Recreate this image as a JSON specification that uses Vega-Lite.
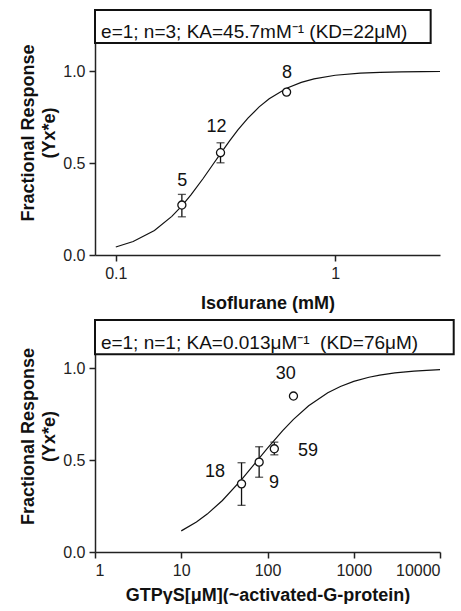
{
  "$schema": "https://vega.github.io/schema/vega-lite/v6.json",
  "padding": {"left": 19, "top": 9, "right": 0, "bottom": 0},
  "background": "white",
  "spacing": 7,
  "config": {
    "font": "Liberation Sans",
    "view": {"stroke": null},
    "axis": {
      "domainColor": "#222", "tickColor": "#222", "labelColor": "#222", "titleColor": "#111",
      "domainWidth": 1.5, "tickWidth": 1.5, "tickSize": 6, "grid": false,
      "labelFontSize": 16, "titleFontSize": 18, "titleFontWeight": "bold", "labelPadding": 4
    }
  },
  "datasets": {
    "curve1": [
      {"x": 0.1, "y": 0.0437}, {"x": 0.12, "y": 0.0732}, {"x": 0.15, "y": 0.1336}, {"x": 0.18, "y": 0.2104},
      {"x": 0.2, "y": 0.2677}, {"x": 0.22, "y": 0.3273}, {"x": 0.25, "y": 0.4166}, {"x": 0.28, "y": 0.5008},
      {"x": 0.3, "y": 0.5523}, {"x": 0.33, "y": 0.6215}, {"x": 0.36, "y": 0.6807}, {"x": 0.4, "y": 0.7452},
      {"x": 0.45, "y": 0.8064}, {"x": 0.5, "y": 0.851}, {"x": 0.6, "y": 0.908}, {"x": 0.7, "y": 0.94},
      {"x": 0.8, "y": 0.959}, {"x": 1.0, "y": 0.9786}, {"x": 1.3, "y": 0.9901}, {"x": 1.6, "y": 0.9947},
      {"x": 2.0, "y": 0.9973}, {"x": 2.5, "y": 0.9986}, {"x": 3.0, "y": 0.9992}
    ],
    "pts1": [
      {"x": 0.2, "y": 0.272, "lo": 0.208, "hi": 0.33},
      {"x": 0.3, "y": 0.557, "lo": 0.502, "hi": 0.611},
      {"x": 0.6, "y": 0.887, "lo": 0.887, "hi": 0.887}
    ],
    "lab1": [
      {"x": 0.201, "y": 0.403, "t": "5"},
      {"x": 0.288, "y": 0.695, "t": "12"},
      {"x": 0.603, "y": 0.989, "t": "8"}
    ],
    "box1": [{"x": 0.0804, "x2": 2.72, "y": 1.154, "y2": 1.334}],
    "txt1": [{"x": 0.0857, "y": 1.214, "t": "e=1; n=3; KA=45.7mM⁻¹ (KD=22μM)"}],
    "curve2": [
      {"x": 10, "y": 0.115}, {"x": 15, "y": 0.1632}, {"x": 20, "y": 0.2063}, {"x": 30, "y": 0.2806},
      {"x": 50, "y": 0.3939}, {"x": 70, "y": 0.4764}, {"x": 100, "y": 0.5652}, {"x": 150, "y": 0.661},
      {"x": 200, "y": 0.7222}, {"x": 300, "y": 0.7959}, {"x": 500, "y": 0.8667}, {"x": 700, "y": 0.901},
      {"x": 1000, "y": 0.9286}, {"x": 1500, "y": 0.9512}, {"x": 2000, "y": 0.963}, {"x": 3000, "y": 0.975},
      {"x": 5000, "y": 0.9848}, {"x": 7000, "y": 0.9891}, {"x": 10000, "y": 0.9924}
    ],
    "pts2": [
      {"x": 50, "y": 0.371, "lo": 0.254, "hi": 0.486},
      {"x": 80, "y": 0.489, "lo": 0.407, "hi": 0.573},
      {"x": 120, "y": 0.562, "lo": 0.529, "hi": 0.598},
      {"x": 200, "y": 0.849, "lo": 0.849, "hi": 0.849}
    ],
    "lab2": [
      {"x": 24.7, "y": 0.436, "t": "18"},
      {"x": 119, "y": 0.376, "t": "9"},
      {"x": 294, "y": 0.549, "t": "59"},
      {"x": 162.5, "y": 0.967, "t": "30"}
    ],
    "box2": [{"x": 1, "x2": 14420, "y": 1.076, "y2": 1.263}],
    "txt2": [{"x": 1.17, "y": 1.14, "t": "e=1; n=1; KA=0.013μM⁻¹\u00a0\u00a0(KD=76μM)"}]
  },
  "vconcat": [
    {
      "width": 345,
      "height": 245,
      "layer": [
        {
          "data": {"name": "box1"},
          "mark": {"type": "rect", "fill": "white", "stroke": "#111", "strokeWidth": 2},
          "encoding": {
            "x": {"field": "x", "type": "quantitative", "scale": {"type": "log", "domain": [0.0804, 3.0], "nice": false},
              "axis": {"values": [0.1, 1], "format": "~g", "title": "Isoflurane (mM)", "titlePadding": 13}},
            "x2": {"field": "x2"},
            "y": {"field": "y", "type": "quantitative", "scale": {"domain": [0, 1.334], "nice": false, "zero": false},
              "axis": {"values": [0, 0.5, 1.0], "format": ".1f", "title": ["Fractional Response", "(Yx*e)"], "titleLineHeight": 21, "titlePadding": 4}},
            "y2": {"field": "y2"}
          }
        },
        {
          "data": {"name": "txt1"},
          "mark": {"type": "text", "align": "left", "baseline": "middle", "fontSize": 19, "color": "#111"},
          "encoding": {
            "x": {"field": "x", "type": "quantitative"},
            "y": {"field": "y", "type": "quantitative"},
            "text": {"field": "t"}
          }
        },
        {
          "data": {"name": "curve1"},
          "mark": {"type": "line", "color": "#111", "strokeWidth": 1.2},
          "encoding": {
            "x": {"field": "x", "type": "quantitative"},
            "y": {"field": "y", "type": "quantitative"}
          }
        },
        {
          "data": {"name": "pts1"},
          "mark": {"type": "rule", "color": "#111", "strokeWidth": 1.3},
          "encoding": {
            "x": {"field": "x", "type": "quantitative"},
            "y": {"field": "lo", "type": "quantitative"},
            "y2": {"field": "hi"}
          }
        },
        {
          "data": {"name": "pts1"},
          "mark": {"type": "tick", "orient": "horizontal", "color": "#111", "size": 8, "thickness": 1.3},
          "encoding": {
            "x": {"field": "x", "type": "quantitative"},
            "y": {"field": "lo", "type": "quantitative"}
          }
        },
        {
          "data": {"name": "pts1"},
          "mark": {"type": "tick", "orient": "horizontal", "color": "#111", "size": 8, "thickness": 1.3},
          "encoding": {
            "x": {"field": "x", "type": "quantitative"},
            "y": {"field": "hi", "type": "quantitative"}
          }
        },
        {
          "data": {"name": "pts1"},
          "mark": {"type": "point", "shape": "circle", "filled": false, "fill": "white", "fillOpacity": 1, "stroke": "#111", "strokeWidth": 1.3, "size": 65, "opacity": 1},
          "encoding": {
            "x": {"field": "x", "type": "quantitative"},
            "y": {"field": "y", "type": "quantitative"}
          }
        },
        {
          "data": {"name": "lab1"},
          "mark": {"type": "text", "align": "center", "baseline": "middle", "fontSize": 18, "color": "#111"},
          "encoding": {
            "x": {"field": "x", "type": "quantitative"},
            "y": {"field": "y", "type": "quantitative"},
            "text": {"field": "t"}
          }
        }
      ]
    },
    {
      "width": 345,
      "height": 232,
      "layer": [
        {
          "data": {"name": "box2"},
          "mark": {"type": "rect", "fill": "white", "stroke": "#111", "strokeWidth": 2},
          "encoding": {
            "x": {"field": "x", "type": "quantitative", "scale": {"type": "log", "domain": [1, 10000], "nice": false},
              "axis": {"values": [1, 10, 100, 1000, 10000], "format": "~g", "title": "GTPγS[μM](~activated-G-protein)", "titlePadding": 8}},
            "x2": {"field": "x2"},
            "y": {"field": "y", "type": "quantitative", "scale": {"domain": [0, 1.263], "nice": false, "zero": false},
              "axis": {"values": [0, 0.5, 1.0], "format": ".1f", "title": ["Fractional Response", "(Yx*e)"], "titleLineHeight": 21, "titlePadding": 4}},
            "y2": {"field": "y2"}
          }
        },
        {
          "data": {"name": "txt2"},
          "mark": {"type": "text", "align": "left", "baseline": "middle", "fontSize": 19, "color": "#111"},
          "encoding": {
            "x": {"field": "x", "type": "quantitative"},
            "y": {"field": "y", "type": "quantitative"},
            "text": {"field": "t"}
          }
        },
        {
          "data": {"name": "curve2"},
          "mark": {"type": "line", "color": "#111", "strokeWidth": 1.2},
          "encoding": {
            "x": {"field": "x", "type": "quantitative"},
            "y": {"field": "y", "type": "quantitative"}
          }
        },
        {
          "data": {"name": "pts2"},
          "mark": {"type": "rule", "color": "#111", "strokeWidth": 1.3},
          "encoding": {
            "x": {"field": "x", "type": "quantitative"},
            "y": {"field": "lo", "type": "quantitative"},
            "y2": {"field": "hi"}
          }
        },
        {
          "data": {"name": "pts2"},
          "mark": {"type": "tick", "orient": "horizontal", "color": "#111", "size": 8, "thickness": 1.3},
          "encoding": {
            "x": {"field": "x", "type": "quantitative"},
            "y": {"field": "lo", "type": "quantitative"}
          }
        },
        {
          "data": {"name": "pts2"},
          "mark": {"type": "tick", "orient": "horizontal", "color": "#111", "size": 8, "thickness": 1.3},
          "encoding": {
            "x": {"field": "x", "type": "quantitative"},
            "y": {"field": "hi", "type": "quantitative"}
          }
        },
        {
          "data": {"name": "pts2"},
          "mark": {"type": "point", "shape": "circle", "filled": false, "fill": "white", "fillOpacity": 1, "stroke": "#111", "strokeWidth": 1.3, "size": 65, "opacity": 1},
          "encoding": {
            "x": {"field": "x", "type": "quantitative"},
            "y": {"field": "y", "type": "quantitative"}
          }
        },
        {
          "data": {"name": "lab2"},
          "mark": {"type": "text", "align": "center", "baseline": "middle", "fontSize": 18, "color": "#111"},
          "encoding": {
            "x": {"field": "x", "type": "quantitative"},
            "y": {"field": "y", "type": "quantitative"},
            "text": {"field": "t"}
          }
        }
      ]
    }
  ]
}
